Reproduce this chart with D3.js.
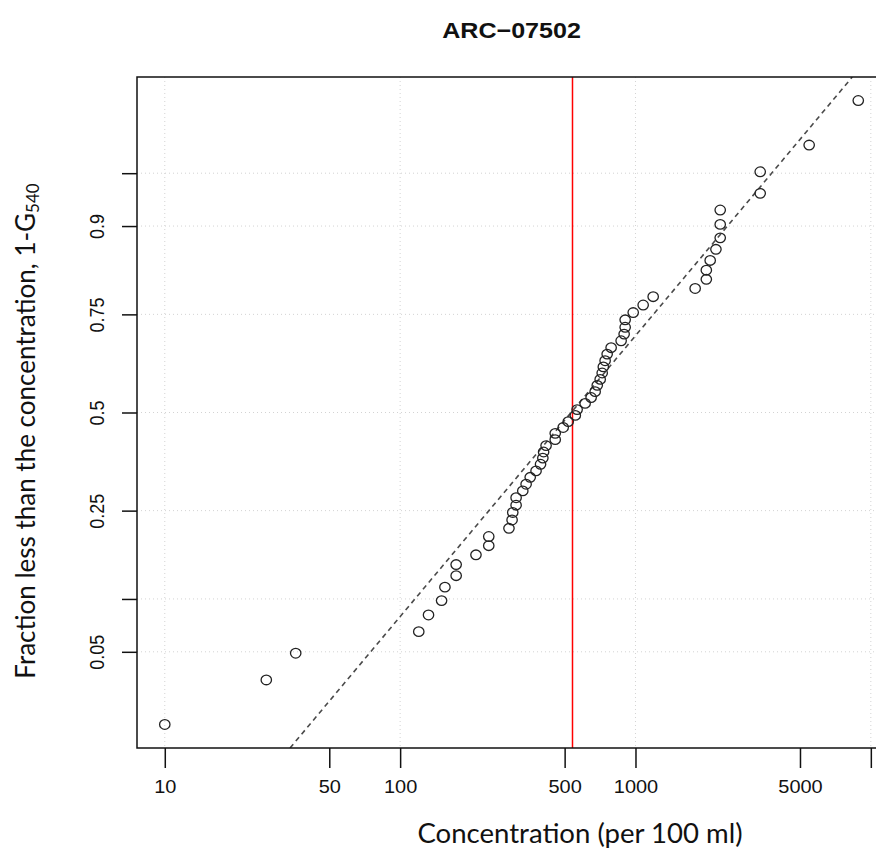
<!DOCTYPE html>
<html>
<head>
<meta charset="utf-8">
<script src="https://cdn.jsdelivr.net/npm/d3@7"></script>
<style>
  body { margin: 0; background: #fff; }
  svg { display: block; }
</style>
</head>
<body>
<div id="chart"></div>
<script>
// sorted concentrations (per 100 ml)
const concentration = [
  10, 27, 36, 120, 132, 150, 155, 173, 173, 210,
  238, 238, 290, 299, 301, 311, 311, 332, 343, 357,
  378, 395, 404, 407, 417, 456, 456, 493, 518, 555,
  565, 611, 648, 674, 688, 708, 722, 730, 743, 758,
  788, 869, 895, 904, 904, 978, 1078, 1189, 1793, 2000,
  2000, 2077, 2197, 2291, 2291, 2291, 3388, 3388, 5470, 8843,
];
// plotting positions (fraction less than)
const fraction = [
  0.016, 0.033, 0.049, 0.066, 0.082, 0.098, 0.115, 0.131, 0.148, 0.164,
  0.180, 0.197, 0.213, 0.230, 0.246, 0.262, 0.279, 0.295, 0.311, 0.328,
  0.344, 0.361, 0.377, 0.393, 0.410, 0.426, 0.443, 0.459, 0.475, 0.492,
  0.508, 0.525, 0.541, 0.557, 0.574, 0.590, 0.607, 0.623, 0.639, 0.656,
  0.672, 0.689, 0.705, 0.721, 0.738, 0.754, 0.770, 0.787, 0.803, 0.820,
  0.836, 0.852, 0.869, 0.885, 0.902, 0.918, 0.934, 0.951, 0.967, 0.984,
];

const probTicks = [0.05, 0.1, 0.25, 0.5, 0.75, 0.9, 0.95];
const probLabels = ["0.05", "", "0.25", "0.5", "0.75", "0.9", ""];
const concTicks = [10, 50, 100, 500, 1000, 5000, 10000];
const concLabels = ["10", "50", "100", "500", "1000", "5000", ""];
const gridConc = [10, 100, 1000, 10000];

const g540 = 540;          // red reference line
const fitMedian = 533;     // lognormal fit (dashed)
const fitSigma = 0.518;    // log10 sd

// inverse normal cdf (Acklam)
function qnorm(p) {
  const a = [-39.69683028665376, 220.9460984245205, -275.9285104469687,
    138.357751867269, -30.66479806614716, 2.506628277459239];
  const b = [-54.47609879822406, 161.5858368580409, -155.6989798598866,
    66.80131188771972, -13.28068155288572];
  const c = [-0.007784894002430293, -0.3223964580411365, -2.400758277161838,
    -2.549732539343734, 4.374664141464968, 2.938163982698783];
  const d = [0.007784695709041462, 0.3224671290700398, 2.445134137142996,
    3.754408661907416];
  const pl = 0.02425;
  let q, r;
  if (p < pl) {
    q = Math.sqrt(-2 * Math.log(p));
    return (((((c[0]*q+c[1])*q+c[2])*q+c[3])*q+c[4])*q+c[5]) /
      ((((d[0]*q+d[1])*q+d[2])*q+d[3])*q+1);
  }
  if (p > 1 - pl) {
    q = Math.sqrt(-2 * Math.log(1 - p));
    return -(((((c[0]*q+c[1])*q+c[2])*q+c[3])*q+c[4])*q+c[5]) /
      ((((d[0]*q+d[1])*q+d[2])*q+d[3])*q+1);
  }
  q = p - 0.5;
  r = q * q;
  return (((((a[0]*r+a[1])*r+a[2])*r+a[3])*r+a[4])*r+a[5])*q /
    (((((b[0]*r+b[1])*r+b[2])*r+b[3])*r+b[4])*r+1);
}

const W = 876, H = 849;
const pLeft = 137, pTop = 77, pRight = 886, pBottom = 748;

const svg = d3.select("#chart").append("svg")
  .attr("width", W).attr("height", H)
  .style("font-family", "'Liberation Sans', Arial, sans-serif");

const x = d3.scaleLog().domain([7.62, 11600]).range([pLeft, pRight]);
const y = d3.scaleLinear().domain([-2.306, 2.306]).range([pBottom, pTop]);

svg.append("clipPath").attr("id", "plotclip")
  .append("rect").attr("x", pLeft).attr("y", pTop)
  .attr("width", pRight - pLeft).attr("height", pBottom - pTop);

// grid
const grid = svg.append("g")
  .attr("stroke", "#d3d3d3").attr("stroke-dasharray", "1,3").attr("stroke-width", 1);
grid.selectAll("line.v").data(gridConc).join("line").attr("class", "v")
  .attr("x1", (d) => x(d)).attr("x2", (d) => x(d))
  .attr("y1", pTop).attr("y2", pBottom);
grid.selectAll("line.h").data(probTicks).join("line").attr("class", "h")
  .attr("x1", pLeft).attr("x2", pRight)
  .attr("y1", (d) => y(qnorm(d))).attr("y2", (d) => y(qnorm(d)));

// fitted lognormal line
const zEnds = y.domain();
svg.append("line")
  .attr("clip-path", "url(#plotclip)")
  .attr("x1", x(fitMedian * Math.pow(10, fitSigma * zEnds[0])))
  .attr("y1", y(zEnds[0]))
  .attr("x2", x(fitMedian * Math.pow(10, fitSigma * zEnds[1])))
  .attr("y2", y(zEnds[1]))
  .attr("stroke", "#4a4a4a").attr("stroke-width", 1.6)
  .attr("stroke-dasharray", "5,4");

// red reference line
svg.append("line")
  .attr("x1", x(g540)).attr("x2", x(g540))
  .attr("y1", pTop).attr("y2", pBottom)
  .attr("stroke", "#ff0000").attr("stroke-width", 1.5);

// points
const pts = concentration.map((c, i) => ({ c, p: fraction[i] }));
svg.append("g").selectAll("ellipse").data(pts).join("ellipse")
  .attr("cx", (d) => x(d.c))
  .attr("cy", (d) => y(qnorm(d.p)))
  .attr("rx", 5.2).attr("ry", 4.8)
  .attr("fill", "none")
  .attr("stroke", "#222").attr("stroke-width", 1.3);

// box
svg.append("rect")
  .attr("x", pLeft).attr("y", pTop)
  .attr("width", pRight - pLeft).attr("height", pBottom - pTop)
  .attr("fill", "none").attr("stroke", "#111").attr("stroke-width", 1.5);

// x axis
const xAxis = d3.axisBottom(x)
  .tickValues(concTicks)
  .tickFormat((d, i) => concLabels[i])
  .tickSize(20).tickPadding(10);
const gx = svg.append("g").attr("transform", `translate(0,${pBottom})`).call(xAxis);
gx.select(".domain").remove();
gx.selectAll(".tick line").attr("stroke", "#111").attr("stroke-width", 1.5);
gx.selectAll(".tick text")
  .attr("y", null).attr("dy", null)
  .attr("transform", "translate(0,45) scale(1.05,1)")
  .attr("fill", "#111")
  .style("font-size", "19px").style("font-family", "'Liberation Sans', Arial, sans-serif");

// y axis (probit scale)
const yAxis = d3.axisLeft(y)
  .tickValues(probTicks.map(qnorm))
  .tickFormat((d, i) => probLabels[i])
  .tickSize(15).tickPadding(0);
const gy = svg.append("g").attr("transform", `translate(${pLeft},0)`).call(yAxis);
gy.select(".domain").remove();
gy.selectAll(".tick line").attr("stroke", "#111").attr("stroke-width", 1.5);
gy.selectAll(".tick text")
  .attr("x", null)
  .attr("text-anchor", "middle")
  .attr("transform", "translate(-40,0) scale(1.1,1) rotate(-90)")
  .attr("dy", "0.35em")
  .attr("fill", "#111")
  .style("font-size", "18px").style("font-family", "'Liberation Sans', Arial, sans-serif");

// title
svg.append("text")
  .attr("transform", `translate(${(pLeft + pRight) / 2},38) scale(1.14,1)`)
  .attr("text-anchor", "middle")
  .attr("font-weight", "bold").attr("font-size", 22)
  .attr("fill", "#111")
  .text("ARC\u221207502");

// axis titles
svg.append("text")
  .attr("transform", "translate(580,843) scale(1.06,1)")
  .attr("text-anchor", "middle")
  .style("font-family", "Lato, 'Open Sans', sans-serif")
  .attr("font-size", 26).attr("fill", "#111")
  .text("Concentration (per 100 ml)");

const yt = svg.append("text")
  .attr("transform", "translate(35,431) rotate(-90)")
  .attr("text-anchor", "middle")
  .style("font-family", "Lato, 'Open Sans', sans-serif")
  .attr("font-size", 26).attr("fill", "#111");
yt.append("tspan").text("Fraction less than the concentration, 1-G");
yt.append("tspan").attr("font-size", 17).attr("dy", 4).text("540");
</script>
</body>
</html>
